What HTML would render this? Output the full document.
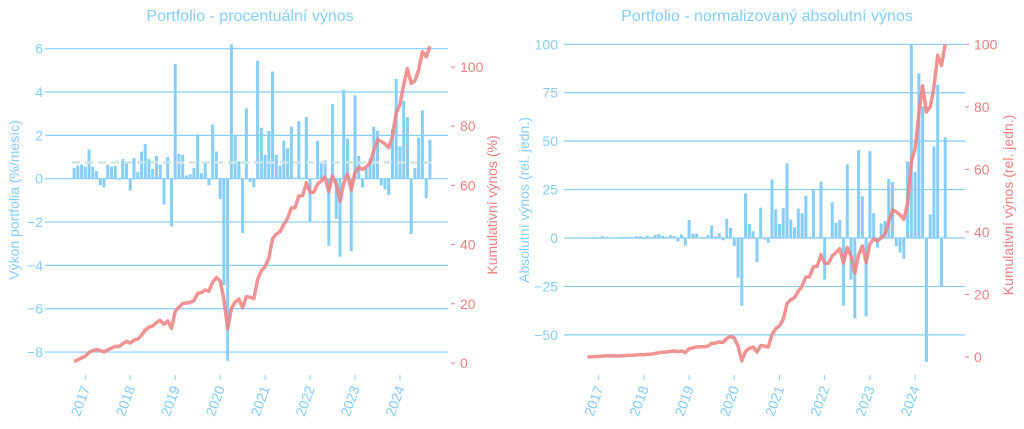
<!DOCTYPE html>
<html><head><meta charset="utf-8"><style>
body{margin:0;background:#fff;}
svg{display:block;font-family:"Liberation Sans",sans-serif;}
</style></head><body>
<svg id="s" width="1024" height="429" xmlns="http://www.w3.org/2000/svg"></svg>
<script>
var P=[0.5,0.6,0.65,
0.55,1.35,0.55,0.35,-0.3,-0.4,0.65,0.55,0.6,-0.05,0.9,0.8,
-0.55,0.95,0.3,1.25,1.6,0.9,0.45,1.05,0.65,-1.2,1.0,-2.2,
5.3,1.15,1.1,0.15,0.2,0.5,2.05,0.25,0.7,-0.3,2.5,1.25,
-0.95,-4.9,-8.4,6.2,2.0,0.8,-2.5,3.25,-0.15,-0.4,5.45,2.35,
1.1,2.2,4.95,1.1,0.6,1.75,1.4,2.4,0.05,2.65,0.05,2.85,
-2.0,0.0,1.75,0.7,0.85,-3.1,3.45,-1.85,-3.6,4.1,1.85,-3.35,
3.85,1.05,-0.4,0.5,0.9,2.4,2.2,-0.3,-0.5,-0.75,2.3,4.6,
1.5,3.6,2.85,-2.55,0.5,1.9,3.15,-0.9,1.8];
var A=[0.3,0.3,0.4,
0.4,0.9,0.4,0.3,-0.3,-0.3,0.6,0.5,0.6,0,0.9,0.9,
-0.6,1.2,0.4,1.6,2.0,1.2,0.6,1.5,1.0,-1.8,1.8,-4.0,
9.3,2.3,2.2,0.3,0.4,1.5,6.5,0.8,2.5,-1.2,9.8,5.3,
-4.2,-20.5,-35,23,7.3,3.5,-12.5,15.7,-0.8,-2.6,30.2,14.8,
7.3,15.5,38.5,9.5,5.5,15.2,12.8,21.8,0.5,25.3,0.5,29,
-21.5,0,18.5,7.8,9.5,-35,38,-21.5,-41.5,45.3,21.5,-40.5,
44.8,12.8,-5,7.5,8.8,30.5,28.8,-4.2,-7.5,-10.8,39.5,100,
34.2,85,68,-64,12.2,47.3,79.2,-25,52];
var B='#87cefa',R='#f08080',h='';
function t(x,y,s,o){h+='<text x="'+x+'" y="'+y+'" '+(o||'')+'>'+s+'</text>';}
function chart(cfg){
 var i,yrs=['2017','2018','2019','2020','2021','2022','2023','2024'];
 cfg.grid.forEach(function(g){var y=cfg.y0-g*cfg.ky;
  h+='<line x1="'+cfg.gx0+'" x2="'+cfg.gx1+'" y1="'+y+'" y2="'+y+'" stroke="'+B+'" stroke-width="1.2"/>';
  t(cfg.lx,y+5,(g<0?'−':'')+Math.abs(g),'fill="'+B+'" font-size="14" text-anchor="end"');});
 cfg.rgrid.forEach(function(g){var y=cfg.r0-g*cfg.kr;
  h+='<line x1="'+cfg.rx+'" x2="'+(cfg.rx+4)+'" y1="'+y+'" y2="'+y+'" stroke="'+R+'" stroke-width="1"/>';
  t(cfg.rx+9,y+5,g,'fill="'+R+'" font-size="14"');});
 for(i=0;i<8;i++){var x=cfg.t0+i*cfg.ty;
  h+='<line x1="'+x+'" x2="'+x+'" y1="375" y2="380" stroke="'+B+'"/>';
  t(x+5,388,yrs[i],'fill="'+B+'" font-size="14" text-anchor="end" transform="rotate(-70 '+(x+5)+' 388)"');}
 var mw=cfg.ty/12;
 cfg.d.forEach(function(v,i){var x=cfg.t0-3*mw+i*mw;var y=cfg.y0-v*cfg.ky;
  h+='<rect x="'+(x-1.5)+'" y="'+Math.min(y,cfg.y0)+'" width="3" height="'+Math.max(Math.abs(v*cfg.ky),0.5)+'" fill="'+B+'"/>';});
 if(cfg.mean!=null){var y=cfg.y0-cfg.mean*cfg.ky;
  h+='<line x1="'+(cfg.t0-3*mw-2)+'" x2="'+(cfg.t0+92*mw+2)+'" y1="'+y+'" y2="'+y+'" stroke="#cfe6e6" stroke-width="2.5" stroke-dasharray="8,5"/>';}
 var pts=cfg.line.map(function(v,i){return (cfg.t0-3*mw+i*mw).toFixed(1)+','+(cfg.r0-v*cfg.kr).toFixed(1);}).join(' ');
 h+='<polyline points="'+pts+'" fill="none" stroke="'+R+'" stroke-opacity="0.85" stroke-width="3.5" stroke-linejoin="round"/>';
 t(cfg.cx,21,cfg.title,'fill="'+B+'" font-size="16" text-anchor="middle"');
 t(0,0,cfg.yl,'fill="'+B+'" font-size="14" text-anchor="middle" transform="translate('+cfg.ylx+',200) rotate(-90)"');
 t(0,0,cfg.yr,'fill="'+R+'" font-size="14" text-anchor="middle" transform="translate('+cfg.yrx+',205) rotate(-90)"');
}
var c=1,L=[];P.forEach(function(v){c*=1+v/100;L.push((c-1)*100);});
var f=107/L[L.length-1];L=L.map(function(v){return v*f;});
chart({grid:[6,4,2,0,-2,-4,-6,-8],y0:178.7,ky:21.67,gx0:45,gx1:448,lx:43,
 rgrid:[0,20,40,60,80,100],r0:363,kr:2.96,rx:451,t0:85.3,ty:44.95,d:P,mean:0.75,line:L,
 cx:250,title:'Portfolio - procentuální výnos',yl:'Výkon portfolia (%/mesíc)',ylx:19,yr:'Kumulativní výnos (%)',yrx:497});
var s=0,C=[];A.forEach(function(v){s+=v;C.push(s);});
var m=C[C.length-1];C=C.map(function(v){return v/m*100;});
chart({grid:[100,75,50,25,0,-25,-50],y0:238,ky:1.937,gx0:564,gx1:965,lx:558,
 rgrid:[0,20,40,60,80,100],r0:357,kr:3.127,rx:965,t0:598.7,ty:45.2,d:A,mean:null,line:C,
 cx:767,title:'Portfolio - normalizovaný absolutní výnos',yl:'Absolutní výnos (rel. jedn.)',ylx:529,yr:'Kumulativní výnos (rel. jedn.)',yrx:1013});
document.getElementById('s').innerHTML=h;
</script>
</body></html>
